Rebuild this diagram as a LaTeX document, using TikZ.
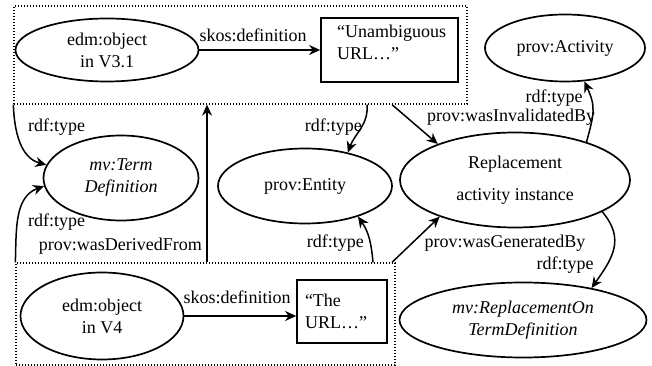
\documentclass[tikz,border=0pt]{standalone}
\usepackage{fontspec}
\setmainfont{Liberation Serif}
\usetikzlibrary{shapes.geometric,arrows.meta}

\begin{document}
\begin{tikzpicture}[x=1pt,y=1pt,
  every node/.style={font=\fontsize{18}{22}\selectfont},
  ital/.style={font=\fontsize{18}{22}\selectfont\itshape},
  ell/.style={draw, ellipse, line width=1.7pt, inner sep=0pt, align=center},
  rbox/.style={draw, rectangle, line width=1.7pt, inner sep=0pt},
  dotbox/.style={draw, rectangle, line width=1.3pt, dash pattern=on 1.3pt off 1.7pt, inner sep=0pt},
  conn/.style={line width=1.5pt, -{Stealth[length=11pt,width=10pt,inset=3.5pt]}},
  lbl/.style={inner sep=1pt},
]
\useasboundingbox (0,0) rectangle (652,366);

% dotted groupings of the two versions
\node[dotbox, minimum width=453, minimum height=98] (topbox) at (240.5,311) {};
\node[dotbox, minimum width=379, minimum height=102] (botbox) at (205.5,52) {};

% resources
\node[ell, minimum width=183, minimum height=63] (objA) at (107,316) {edm:object\\in V3.1};
\node[rbox, minimum width=137, minimum height=64] (boxA) at (389.5,316) {};
\node[anchor=north west, align=left, inner sep=0pt] (boxAtext) at (337,341) {“Unambiguous\\URL…”};
\node[ell, minimum width=160, minimum height=67] (act) at (565,318) {prov:Activity};
\node[ell, ital, minimum width=155, minimum height=85] (term) at (121,188) {mv:Term\\Definition};
\node[ell, minimum width=174, minimum height=75] (ent) at (305,180) {prov:Entity};
\node[ell, minimum width=230, minimum height=95] (repl) at (515,186) {Replacement\\[10pt]activity instance};
\node[ell, minimum width=163, minimum height=87] (objB) at (102,50) {edm:object\\in V4};
\node[rbox, align=left, text width=74pt, inner xsep=8pt, minimum height=63] (boxB) at (342,54.5) {“The\\URL…”};
\node[ell, ital, minimum width=247, minimum height=75] (replon) at (523,46) {mv:ReplacementOn\\TermDefinition};

% properties
\draw[conn] (objA.east) -- (objA.east -| boxA.west);
\draw[conn] (objB.east) -- (objB.east -| boxB.west);
\draw[conn] (topbox.south west) to[out=-88, in=165] (term.170);
\draw[conn] (botbox.north west) to[out=88, in=-160] (term.186);
\draw[conn] (207,0 |- botbox.north) -- (207,0 |- topbox.south);
\draw[conn] (367,0 |- topbox.south) to[out=-85, in=70] (ent.38);
\draw[conn] (373,0 |- botbox.north) to[out=95, in=-55] (ent.-30);
\draw[conn] (392,0 |- topbox.south) -- (repl.155);
\draw[conn] (392,0 |- botbox.north) -- (repl.206);
\draw[conn] (repl.28) to[out=75, in=-65, looseness=1.2] (act.-60);
\draw[conn] (repl.-20) to[out=-50, in=55, looseness=1.2] (replon.25);

% property labels
\node[lbl] (lskA) at (253,331) {skos:definition};
\node[lbl] (lskB) at (237,69) {skos:definition};
\node[lbl, anchor=west] (lt1) at (27,239) {rdf:type};
\node[lbl, anchor=west] (lt2) at (27,144) {rdf:type};
\node[lbl, anchor=east] (lder) at (203,120) {prov:wasDerivedFrom};
\node[lbl, anchor=east] (lt3) at (363,239) {rdf:type};
\node[lbl, anchor=east] (lt4) at (365,123) {rdf:type};
\node[lbl] (linv) at (511,249) {prov:wasInvalidatedBy};
\node[lbl] (lt5) at (554,268) {rdf:type};
\node[lbl] (lgen) at (505,123) {prov:wasGeneratedBy};
\node[lbl] (lt6) at (565,101) {rdf:type};
\end{tikzpicture}
\end{document}
